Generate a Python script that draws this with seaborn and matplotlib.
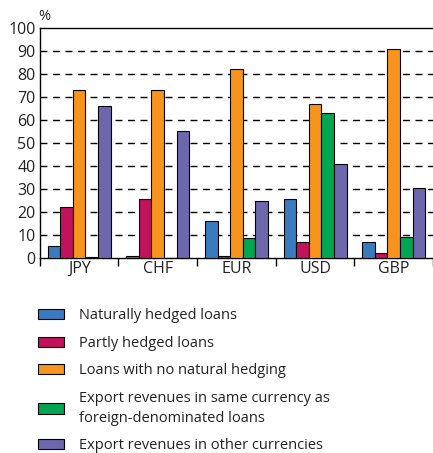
import pandas as pd
import numpy as np
import matplotlib
matplotlib.use("Agg")
import matplotlib.pyplot as plt
import seaborn as sns
from matplotlib.patches import Patch

# Données
devises = ["JPY", "CHF", "EUR", "USD", "GBP"]
series = [
    "Naturally hedged loans",
    "Partly hedged loans",
    "Loans with no natural hedging",
    "Export revenues in same currency as\nforeign-denominated loans",
    "Export revenues in other currencies",
]
naturally_hedged = [5, 1, 16, 25.5, 7]
partly_hedged = [22, 25.5, 1, 7, 2]
no_hedging = [73, 73.3, 82.5, 67, 91]
export_same = [0.5, 0.2, 8.5, 63, 9]
export_other = [66, 55.5, 25, 40.8, 30.3]
couleurs = ["#3a7bc0", "#c0135b", "#f7941d", "#00a652", "#6e67ae"]

valeurs = [naturally_hedged, partly_hedged, no_hedging, export_same, export_other]
df = pd.DataFrame({
    "devise": devises * len(series),
    "serie": np.repeat(series, len(devises)),
    "valeur": np.concatenate(valeurs),
})

##########################################################

sns.set_style("white")
plt.rcParams['font.family'] = ['Open Sans', 'DejaVu Sans']

fig = plt.figure(figsize=(4.33, 4.53), dpi=100)
ax = fig.add_axes([0.092, 0.4305, 0.908, 0.507])

sns.barplot(data=df, x="devise", y="valeur", hue="serie", order=devises,
            hue_order=series, palette=couleurs, width=0.8, saturation=1,
            edgecolor="black", linewidth=0.8, legend=False, ax=ax, zorder=3)

ax.set_ylim(0, 100)
ax.set_xlim(-0.5, 4.5)
ax.set_yticks(range(0, 101, 10))
ax.set_xlabel("")
ax.set_ylabel("")
for y in range(10, 100, 10):
    ax.axhline(y, color="black", linestyle=(0, (5, 4)), linewidth=1, zorder=1)

for s in ["left", "bottom", "top"]:
    ax.spines[s].set_color("black")
    ax.spines[s].set_linewidth(1)
ax.spines["right"].set_visible(False)

ax.tick_params(axis="y", length=0, pad=3, labelsize=11.5, colors="#222222")
ax.tick_params(axis="x", which="major", length=0, pad=2, labelsize=11.5,
               colors="#222222")
ax.set_xticks(np.arange(-0.5, 5, 1), minor=True)
ax.tick_params(axis="x", which="minor", length=6, width=1, color="black",
               direction="out", bottom=True)

fig.text(0.088, 0.955, "%", fontsize=10.5, color="#222222", ha="left")

handles = [Patch(facecolor=c, edgecolor="black", linewidth=0.8) for c in couleurs]
leg = fig.legend(handles, series, loc="upper left", bbox_to_anchor=(0.088, 0.319),
                 frameon=False, fontsize=10.5, handlelength=1.8, handleheight=0.7,
                 handletextpad=1.0, labelspacing=0.85, borderaxespad=0,
                 borderpad=0, labelcolor="#222222")
for t in leg.get_texts():
    t.set_linespacing(1.45)

fig.savefig("out.png", dpi=100)
